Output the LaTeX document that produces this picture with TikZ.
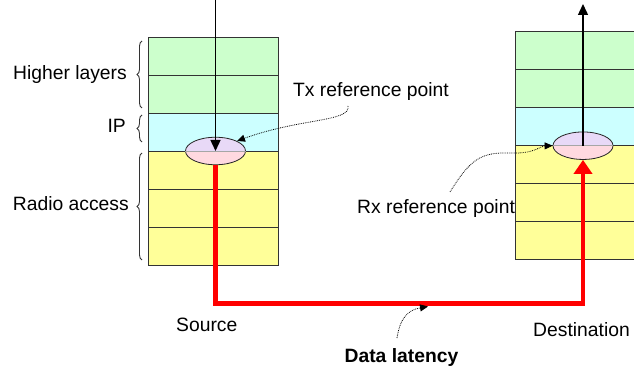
\documentclass[tikz,border=0pt]{standalone}
\usepackage{fontspec}
\setmainfont{Liberation Sans}
\usetikzlibrary{arrows.meta,shapes.geometric,decorations.pathreplacing}
\definecolor{hl}{HTML}{CCFFCC}
\definecolor{ipc}{HTML}{CCFFFF}
\definecolor{ra}{HTML}{FFFF99}
\definecolor{elltop}{HTML}{E8D9F7}
\definecolor{ellbot}{HTML}{FFD9E0}
\definecolor{latred}{HTML}{FF0000}
\begin{document}
\begin{tikzpicture}[x=1pt,y=-1pt, font=\fontsize{19.3}{22}\selectfont,
  layer/.style={draw=black!80, line width=0.8pt, minimum width=130pt, minimum height=38pt, inner sep=0pt, outer sep=0pt},
  refpt/.style={ellipse, draw=black!85, line width=0.8pt, minimum width=60pt, minimum height=27.5pt, inner sep=0pt,
    path picture={\fill[elltop] (path picture bounding box.north west) rectangle (path picture bounding box.east);
                  \fill[ellbot] (path picture bounding box.west) rectangle (path picture bounding box.south east);}},
  lbl/.style={inner sep=0pt},
  bracestyle/.style={draw=black!80, line width=0.9pt, decorate, decoration={brace, amplitude=5pt}},
  blkarrow/.style={line width=1.4pt, -{Triangle[length=11pt,width=10pt]}},
  redarrow/.style={draw=latred, line width=4.5pt, line join=miter, -{Triangle[length=14pt,width=18pt]}},
  dotarr/.style={densely dotted, line width=0.8pt, -{Triangle[length=8pt,width=7pt]}}
]
\useasboundingbox (0,0) rectangle (634,371);
\clip (0,0) rectangle (634,371);

% left stack
\node[layer, fill=hl]  (L1) at (213,56)  {};
\node[layer, fill=hl]  (L2) at (213,94)  {};
\node[layer, fill=ipc] (L3) at (213,132) {};
\node[layer, fill=ra]  (L4) at (213,170) {};
\node[layer, fill=ra]  (L5) at (213,208) {};
\node[layer, fill=ra]  (L6) at (213,246) {};

% right stack
\node[layer, fill=hl]  (R1) at (580,50.7)  {};
\node[layer, fill=hl]  (R2) at (580,88.7)  {};
\node[layer, fill=ipc] (R3) at (580,126.7) {};
\node[layer, fill=ra]  (R4) at (580,164.7) {};
\node[layer, fill=ra]  (R5) at (580,202.7) {};
\node[layer, fill=ra]  (R6) at (580,240.7) {};

% reference points
\node[refpt] (Tx) at (215.5,151) {};
\node[refpt] (Rx) at (583,145.7) {};
\draw[black!35, line width=0.7pt] (Tx.west) -- (Tx.east);
\draw[black!35, line width=0.7pt] (Rx.west) -- (Rx.east);

% braces
\draw[bracestyle] (142,108) -- (142,41);
\draw[bracestyle] (142,142) -- (142,115);
\draw[bracestyle] (142,260) -- (142,153);

% labels
\node[lbl, anchor=base east] (lhl) at (127,80) {Higher layers};
\node[lbl, anchor=base east] (lip) at (126,133) {IP};
\node[lbl, anchor=base east] (lra) at (129,211) {Radio access};
\node[lbl, anchor=base west] (ltx) at (293,97) {Tx reference point};
\node[lbl, anchor=base west] (lrx) at (357,214) {Rx reference point};
\node[lbl, anchor=base west] (lsrc) at (176,331) {Source};
\node[lbl, anchor=base west] (ldst) at (533,336) {Destination};
\node[lbl, anchor=base] (llat) at (401.5,362) {\bfseries Data latency};

% black flow arrows
\coordinate (inL) at (215.5,0);
\coordinate (outR) at (583,4);
\draw[blkarrow] (inL) -- (Tx.center);
\draw[blkarrow] (Rx.center) -- (outR);

% red latency path
\coordinate (lat) at (400,303.5);
\draw[redarrow] (Tx.south) |- (lat) -| (Rx.south);

% dotted pointers
\coordinate (txs) at (348,106);
\draw[dotarr] (txs) .. controls (351,122) and (300,118) .. (Tx.north east);
\coordinate (rxs) at (450,192);
\draw[dotarr] (rxs) .. controls (470,160) and (480,152) .. (510,153) .. controls (535,154) and (540,146) .. (Rx.west);
\coordinate (dls) at (397,338);
\coordinate (dle) at (428,306.5);
\draw[dotarr] (dls) .. controls (400,318) and (408,310) .. (dle);
\end{tikzpicture}
\end{document}
